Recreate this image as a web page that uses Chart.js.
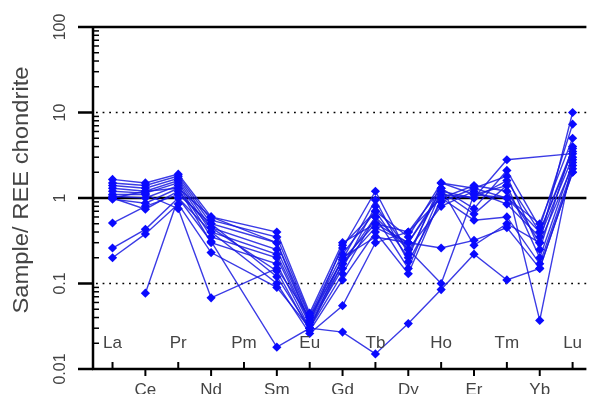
<!DOCTYPE html>
<html>
<head>
<meta charset="utf-8">
<script src="https://cdn.jsdelivr.net/npm/chart.js@4"></script>
<style>
  body { margin: 0; background: #fff; overflow: hidden; }
</style>
</head>
<body>
<canvas id="myChart" width="591" height="394"></canvas>
<script>
// REE order, Pm has no data
var elements = ['La', 'Ce', 'Pr', 'Nd', 'Pm', 'Sm', 'Eu', 'Gd', 'Tb', 'Dy', 'Ho', 'Er', 'Tm', 'Yb', 'Lu'];
var yTicks = [0.01, 0.1, 1, 10, 100];
var yTickLabels = ['0.01', '0.1', '1', '10', '100'];

// chondrite-normalised values, one array per sample
var s1  = [1.65, 1.5,  1.9,  0.6,   null, 0.4,   0.045, 0.3,   0.5,   0.4,   1.0,   1.4,  1.2,  0.3,   10];
var s2  = [1.5,  1.4,  1.8,  0.55,  null, 0.35,  0.042, 0.26,  1.2,   0.22,  1.3,   0.75, 2.1,  0.45,  7.3];
var s3  = [1.4,  1.3,  1.7,  0.5,   null, 0.3,   0.04,  0.22,  0.7,   0.35,  1.5,   1.1,  1.0,  0.5,   5];
var s4  = [1.3,  1.2,  1.6,  0.45,  null, 0.25,  0.037, 0.19,  0.95,  0.18,  0.9,   1.3,  1.8,  0.25,  4];
var s5  = [1.2,  1.14, 1.5,  0.4,   null, 0.22,  0.035, 0.17,  0.45,  0.3,   1.2,   1.0,  1.6,  0.4,   3.5];
var s6  = [1.05, 1.0,  1.4,  0.35,  null, 0.2,   0.033, 0.15,  0.8,   0.25,  0.8,   1.2,  0.85, 0.35,  3];
var s7  = [0.97, 0.87, 1.3,  0.3,   null, 0.17,  0.03,  0.13,  0.6,   0.15,  1.2,   0.65, 1.4,  0.2,   2.6];
var s8  = [1.0,  0.74, 1.2,  0.45,  null, 0.14,  0.028, 0.11,  0.4,   0.13,  1.0,   0.55, 0.6,  0.17,  2.2];
var s9  = [0.51, 0.8,  1.1,  0.5,   null, 0.12,  0.03,  0.2,   0.35,  0.3,   0.26,  0.32, 0.45, 0.15,  2.0];
var s10 = [0.26, 0.43, 1.0,  0.4,   null, 0.1,   0.026, 0.055, 0.3,   0.4,   1.3,   0.28, 0.5,  0.3,   2.4];
var s11 = [0.2,  0.38, 0.85, 0.23,  null, 0.09,  0.03,  0.027, 0.015, 0.034, 0.085, 0.22, 0.11, 0.15,  2.0];
var s12 = [null, 0.077, 1.0, 0.31,  null, 0.018, 0.03,  0.17,  0.6,   0.25,  0.1,   1.1,  1.4,  0.037, 2.8];
var s13 = [1.1,  1.1,  0.75, 0.068, null, 0.15,  0.04,  0.19,  0.5,   0.3,   1.1,   1.0,  2.8,  null,  3.3];
var s14 = [1.0,  1.2,  1.3,  0.6,   null, 0.3,   0.035, 0.28,  0.7,   0.2,   1.5,   1.3,  1.0,  0.4,   3.8];

var samples = [s1, s2, s3, s4, s5, s6, s7, s8, s9, s10, s11, s12, s13, s14];

function toPoints(vals) {
    var pts = [];
    vals.forEach(function (v, i) {
        if (v != null) pts.push({ x: i, y: v });
    });
    return pts;
}

var datasets = samples.map(function (vals, k) {
    return {
        label: 'Sample ' + (k + 1),
        data: toPoints(vals),
        borderColor: 'rgba(25,25,225,0.85)',
        backgroundColor: '#0a0aff',
        borderWidth: 1.4,
        pointStyle: 'rectRot',
        pointRadius: 4.6,
        pointBackgroundColor: '#0a0aff',
        pointBorderColor: '#0a0aff',
        pointBorderWidth: 0,
        tension: 0
    };
});

function seg(ctx, x1, y1, x2, y2) {
    ctx.beginPath();
    ctx.moveTo(x1, y1);
    ctx.lineTo(x2, y2);
    ctx.stroke();
}

// grid lines, axes, ticks and labels drawn by hand
var frame = {
    id: 'frame',
    beforeDatasetsDraw: function (chart) {
        var ctx = chart.ctx, a = chart.chartArea, y = chart.scales.y;
        ctx.save();
        ctx.strokeStyle = '#000';
        ctx.lineWidth = 1.6;
        ctx.setLineDash([1.8, 4.8]);
        [10, 0.1].forEach(function (v) {
            var py = y.getPixelForValue(v);
            seg(ctx, a.left + 3, py, a.right, py);
        });
        ctx.setLineDash([]);
        ctx.lineWidth = 2.5;
        [1, 100].forEach(function (v) {
            var py = y.getPixelForValue(v);
            seg(ctx, a.left, py, a.right, py);
        });
        ctx.restore();
    },
    afterDatasetsDraw: function (chart) {
        var ctx = chart.ctx, a = chart.chartArea, x = chart.scales.x, y = chart.scales.y;
        ctx.save();
        ctx.strokeStyle = '#000';
        ctx.lineWidth = 2.5;
        seg(ctx, a.left, a.top - 1, a.left, a.bottom + 1);
        seg(ctx, a.left - 1, a.bottom, a.right, a.bottom);

        // y ticks: major outside, minor inside
        yTicks.forEach(function (v, i) {
            var py = y.getPixelForValue(v);
            ctx.lineWidth = 2.5;
            seg(ctx, a.left - 15, py, a.left, py);
            if (i < yTicks.length - 1) {
                ctx.lineWidth = 1.5;
                for (var m = 2; m <= 9; m++) {
                    var my = y.getPixelForValue(v * m);
                    seg(ctx, a.left, my, a.left + 6, my);
                }
            }
        });

        // y tick labels, rotated
        ctx.fillStyle = '#444';
        ctx.font = '16px "Liberation Sans", Arial, sans-serif';
        ctx.textAlign = 'center';
        ctx.textBaseline = 'middle';
        yTicks.forEach(function (v, i) {
            var py = y.getPixelForValue(v);
            ctx.save();
            ctx.translate(a.left - 32, py);
            ctx.rotate(-Math.PI / 2);
            ctx.fillText(yTickLabels[i], 0, 0);
            ctx.restore();
        });

        // y title
        ctx.save();
        ctx.font = '22px "Liberation Sans", Arial, sans-serif';
        ctx.translate(22, 190);
        ctx.rotate(-Math.PI / 2);
        ctx.scale(1.08, 1);
        ctx.fillText('Sample/ REE chondrite', 0, 0);
        ctx.restore();

        // x ticks and element labels, alternating inside / below
        ctx.font = '17px "Liberation Sans", Arial, sans-serif';
        ctx.lineWidth = 2;
        elements.forEach(function (el, i) {
            var px = x.getPixelForValue(i);
            if (i % 2 === 0) {
                seg(ctx, px, a.bottom - 7, px, a.bottom);
                ctx.fillText(el, px, a.bottom - 26);
            } else {
                seg(ctx, px, a.bottom, px, a.bottom + 7);
                ctx.fillText(el, px, a.bottom + 21);
            }
        });
        ctx.restore();
    }
};

var ctx = document.getElementById('myChart').getContext('2d');
var myChart = new Chart(ctx, {
    type: 'line',
    data: { datasets: datasets },
    options: {
        responsive: false,
        animation: false,
        devicePixelRatio: 1,
        layout: { padding: { left: 93, top: 27, right: 0, bottom: 25 } },
        plugins: {
            legend: { display: false },
            tooltip: { enabled: false }
        },
        scales: {
            x: {
                type: 'linear',
                min: -0.594,
                max: 14.42,
                display: false
            },
            y: {
                type: 'logarithmic',
                min: 0.01,
                max: 100,
                display: false
            }
        }
    },
    plugins: [frame]
});
</script>
</body>
</html>
